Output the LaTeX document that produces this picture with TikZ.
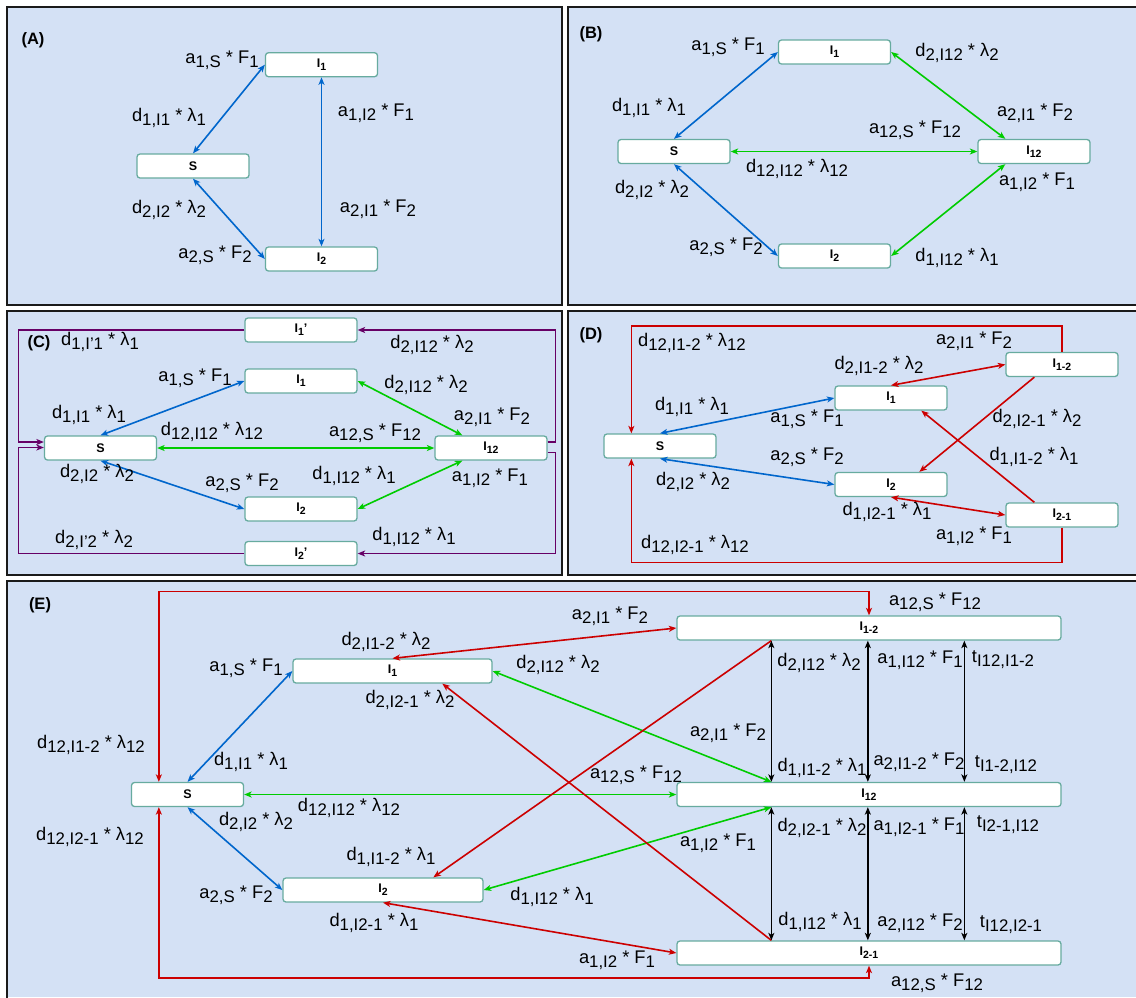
\documentclass[tikz,border=0pt]{standalone}
\usepackage{fontspec}
\setmainfont{Liberation Sans}
\usetikzlibrary{arrows.meta,calc}
\definecolor{bgp}{HTML}{D4E1F5}
\definecolor{nbd}{HTML}{67AB9F}
\definecolor{cblue}{HTML}{0066CC}
\definecolor{cgreen}{HTML}{00CC00}
\definecolor{cred}{HTML}{CC0000}
\definecolor{cpur}{HTML}{660066}
\definecolor{pbd}{HTML}{1A1A1A}
\newcommand\sbs[1]{\raisebox{-3.9pt}{\fontsize{16.8}{18}\selectfont #1}}
\newcommand\nsb[1]{\raisebox{-2.8pt}{\fontsize{10.5}{12}\selectfont #1}}
\begin{document}
\begin{tikzpicture}[x=1pt,y=-1pt,
  >={Stealth[length=7.5pt,width=6pt,inset=2pt]},
  panel/.style={fill=bgp},
  pborder/.style={draw=pbd,line width=2pt},
  st/.style={rectangle,rounded corners=3pt,fill=white,draw=nbd,line width=1.3pt,
    minimum width=112pt,minimum height=24pt,inner sep=0pt,
    font=\fontsize{12.5}{14}\selectfont\bfseries},
  lab/.style={inner sep=0pt,font=\fontsize{18.3}{20}\selectfont},
  plab/.style={inner sep=0pt,font=\fontsize{16.5}{18}\selectfont\bfseries},
  bl/.style={draw=cblue,line width=1.6pt},
  gr/.style={draw=cgreen,line width=1.6pt},
  rd/.style={draw=cred,line width=1.6pt},
  pu/.style={draw=cpur,line width=1.6pt},
  bk/.style={draw=black,line width=1.6pt}]
\useasboundingbox (0,0) rectangle (1136,997);
\fill[white] (0,0) rectangle (1136,997);
% panels
\fill[panel] (6.5,6.5) rectangle (561.5,305);
\draw[pborder] (6.5,6.5) rectangle (561.5,305);
\fill[panel] (567.5,6.5) rectangle (1136,305);
\draw[pborder] (1137,6.5) -- (567.5,6.5) -- (567.5,305) -- (1137,305);
\fill[panel] (6.5,311) rectangle (561.5,575);
\draw[pborder] (6.5,311) rectangle (561.5,575);
\fill[panel] (567.5,311) rectangle (1136,575);
\draw[pborder] (1137,311) -- (567.5,311) -- (567.5,575) -- (1137,575);
\fill[panel] (6.5,580.5) rectangle (1136,997);
\draw[pborder] (1137,580.5) -- (6.5,580.5) -- (6.5,998);

\node[plab] (pA) at (33,40) {(A)};
\node[plab] (pB) at (591,34) {(B)};
\node[plab] (pC) at (39,343) {(C)};
\node[plab] (pD) at (591,335) {(D)};
\node[plab] (pE) at (40,605) {(E)};

% ---------- Panel A
\node[st] (aI1) at (321.5,64.7) {I\nsb{1}};
\node[st] (aS) at (193,166) {S};
\node[st] (aI2) at (321.5,259) {I\nsb{2}};
\draw[bl,<->] (aS.north) -- (aI1.west);
\draw[bl,<->] (aS.south) -- (aI2.west);
\draw[bl,<->] (aI1.south) -- (aI2.north);
\node[lab] (la1) at (222,60) {a\sbs{1,S} * F\sbs{1}};
\node[lab] (la2) at (169,118) {d\sbs{1,I1} * λ\sbs{1}};
\node[lab] (la3) at (169,210) {d\sbs{2,I2} * λ\sbs{2}};
\node[lab] (la4) at (215,255) {a\sbs{2,S} * F\sbs{2}};
\node[lab] (la5) at (376,113) {a\sbs{1,I2} * F\sbs{1}};
\node[lab] (la6) at (378,209) {a\sbs{2,I1} * F\sbs{2}};

% ---------- Panel B
\node[st] (bI1) at (834.5,52) {I\nsb{1}};
\node[st] (bS) at (674,151.5) {S};
\node[st] (bI12) at (1034,151.5) {I\nsb{12}};
\node[st] (bI2) at (834.5,256) {I\nsb{2}};
\draw[bl,<->] (bS.north) -- (bI1.west);
\draw[bl,<->] (bS.south) -- (bI2.west);
\draw[gr,<->] (bI1.east) -- ([xshift=28pt]bI12.north west);
\draw[gr,<->] (bI2.east) -- ([xshift=28pt]bI12.south west);
\draw[gr,<->] (bS.east) -- (bI12.west);
\node[lab] (lb1) at (728,47) {a\sbs{1,S} * F\sbs{1}};
\node[lab] (lb2) at (957,53) {d\sbs{2,I12} * λ\sbs{2}};
\node[lab] (lb3) at (649,108) {d\sbs{1,I1} * λ\sbs{1}};
\node[lab] (lb4) at (1035,113) {a\sbs{2,I1} * F\sbs{2}};
\node[lab] (lb5) at (915,130) {a\sbs{12,S} * F\sbs{12}};
\node[lab] (lb6) at (797,169) {d\sbs{12,I12} * λ\sbs{12}};
\node[lab] (lb7) at (1037,182) {a\sbs{1,I2} * F\sbs{1}};
\node[lab] (lb8) at (652,190) {d\sbs{2,I2} * λ\sbs{2}};
\node[lab] (lb9) at (726,247) {a\sbs{2,S} * F\sbs{2}};
\node[lab] (lb10) at (957,258) {d\sbs{1,I12} * λ\sbs{1}};

% ---------- Panel C
\node[st] (cI1p) at (301,330) {I\nsb{1}'};
\node[st] (cI1) at (301,381) {I\nsb{1}};
\node[st] (cS) at (100.5,448) {S};
\node[st] (cI12) at (491,448) {I\nsb{12}};
\node[st] (cI2) at (301,509) {I\nsb{2}};
\node[st] (cI2p) at (301,553.5) {I\nsb{2}'};
\draw[bl,<->] (cS.north) -- (cI1.west);
\draw[bl,<->] (cS.south) -- (cI2.west);
\draw[gr,<->] (cI1.east) -- ([xshift=28pt]cI12.north west);
\draw[gr,<->] (cI2.east) -- ([xshift=28pt]cI12.south west);
\draw[gr,<->] (cS.east) -- (cI12.west);
\draw[pu,->] (cI1p.west) -| ([xshift=-25.5pt,yshift=6pt]cS.west) -- ([yshift=6pt]cS.west);
\draw[pu,->] (cI2p.west) -| ([xshift=-25.5pt,yshift=0.5pt]cS.west) -- ([yshift=0.5pt]cS.west);
\draw[pu,->] ([yshift=6pt]cI12.east) -- ++(8,0) |- (cI1p.east);
\draw[pu,->] ([yshift=-4.5pt]cI12.east) -- ++(8,0) |- (cI2p.east);
\node[lab] (lc1) at (100,342) {d\sbs{1,I'1} * λ\sbs{1}};
\node[lab] (lc2) at (432,345) {d\sbs{2,I12} * λ\sbs{2}};
\node[lab] (lc3) at (195,378) {a\sbs{1,S} * F\sbs{1}};
\node[lab] (lc4) at (426,385) {d\sbs{2,I12} * λ\sbs{2}};
\node[lab] (lc5) at (89,415) {d\sbs{1,I1} * λ\sbs{1}};
\node[lab] (lc6) at (492,417) {a\sbs{2,I1} * F\sbs{2}};
\node[lab] (lc7) at (212,432) {d\sbs{12,I12} * λ\sbs{12}};
\node[lab] (lc8) at (375,433) {a\sbs{12,S} * F\sbs{12}};
\node[lab] (lc9) at (97,474) {d\sbs{2,I2} * λ\sbs{2}};
\node[lab] (lc10) at (242,483) {a\sbs{2,S} * F\sbs{2}};
\node[lab] (lc11) at (354,476) {d\sbs{1,I12} * λ\sbs{1}};
\node[lab] (lc12) at (490,478) {a\sbs{1,I2} * F\sbs{1}};
\node[lab] (lc13) at (94,540) {d\sbs{2,I'2} * λ\sbs{2}};
\node[lab] (lc14) at (414,537) {d\sbs{1,I12} * λ\sbs{1}};

% ---------- Panel D
\node[st] (dI12a) at (1062,364.5) {I\nsb{1-2}};
\node[st] (dI1) at (891,398) {I\nsb{1}};
\node[st] (dS) at (660,446) {S};
\node[st] (dI2) at (891,484.5) {I\nsb{2}};
\node[st] (dI21) at (1062,515) {I\nsb{2-1}};
\draw[bl,<->] (dS.north) -- (dI1.west);
\draw[bl,<->] (dS.south) -- (dI2.west);
\draw[rd,->] (dI12a.north) -- ++(0,-26) -| ([xshift=28pt]dS.north west);
\draw[rd,->] (dI21.south) -- ++(0,35) -| ([xshift=28pt]dS.south west);
\draw[rd,<->] (dI1.north) -- (dI12a.west);
\draw[rd,<->] (dI2.south) -- (dI21.west);
\draw[rd,->] ([xshift=29pt]dI12a.south west) -- ([xshift=85pt]dI2.north west);
\draw[rd,->] ([xshift=29pt]dI21.north west) -- ([xshift=87pt]dI1.south west);
\node[lab] (ld1) at (692,343) {d\sbs{12,I1-2} * λ\sbs{12}};
\node[lab] (ld2) at (974,341) {a\sbs{2,I1} * F\sbs{2}};
\node[lab] (ld3) at (879,366) {d\sbs{2,I1-2} * λ\sbs{2}};
\node[lab] (ld4) at (692,407) {d\sbs{1,I1} * λ\sbs{1}};
\node[lab] (ld5) at (807,419) {a\sbs{1,S} * F\sbs{1}};
\node[lab] (ld6) at (1037,419) {d\sbs{2,I2-1} * λ\sbs{2}};
\node[lab] (ld7) at (807,457) {a\sbs{2,S} * F\sbs{2}};
\node[lab] (ld8) at (1034,457) {d\sbs{1,I1-2} * λ\sbs{1}};
\node[lab] (ld9) at (693,482) {d\sbs{2,I2} * λ\sbs{2}};
\node[lab] (ld10) at (887,512) {d\sbs{1,I2-1} * λ\sbs{1}};
\node[lab] (ld11) at (974,536) {a\sbs{1,I2} * F\sbs{1}};
\node[lab] (ld12) at (695,545) {d\sbs{12,I2-1} * λ\sbs{12}};

% ---------- Panel E
\node[st,minimum width=199pt] (eI1) at (392.5,671) {I\nsb{1}};
\node[st] (eS) at (187.5,794.5) {S};
\node[st,minimum width=200pt] (eI2) at (383,890) {I\nsb{2}};
\node[st,minimum width=384pt] (eI12a) at (869,628) {I\nsb{1-2}};
\node[st,minimum width=384pt] (eI12) at (869,794.5) {I\nsb{12}};
\node[st,minimum width=384pt] (eI21) at (869,953) {I\nsb{2-1}};
\draw[bl,<->] (eS.north) -- (eI1.west);
\draw[bl,<->] (eS.south) -- (eI2.west);
\draw[gr,<->] (eI1.east) -- ([xshift=95pt]eI12.north west);
\draw[gr,<->] (eI2.east) -- ([xshift=95pt]eI12.south west);
\draw[gr,<->] (eS.east) -- (eI12.west);
\draw[rd,<->] ([xshift=28pt]eS.north west) -- ++(0,-190.5) -| (eI12a.north);
\draw[rd,<->] ([xshift=28pt]eS.south west) -- ++(0,171) -| (eI21.south);
\draw[rd,<->] (eI1.north) -- (eI12a.west);
\draw[rd,<->] (eI2.south) -- (eI21.west);
\draw[rd,->] ([xshift=95pt]eI12a.south west) -- ([xshift=151pt]eI2.north west);
\draw[rd,->] ([xshift=95pt]eI21.north west) -- ([xshift=150pt]eI1.south west);
\foreach \dx in {95,191.5,288}{
  \draw[bk,<->] ([xshift=\dx pt]eI12a.south west) -- ([xshift=\dx pt]eI12.north west);
  \draw[bk,<->] ([xshift=\dx pt]eI12.south west) -- ([xshift=\dx pt]eI21.north west);
}
\node[lab] (le1) at (935,602) {a\sbs{12,S} * F\sbs{12}};
\node[lab] (le2) at (610,616) {a\sbs{2,I1} * F\sbs{2}};
\node[lab] (le3) at (386,642) {d\sbs{2,I1-2} * λ\sbs{2}};
\node[lab] (le4) at (246,668) {a\sbs{1,S} * F\sbs{1}};
\node[lab] (le5) at (558,665) {d\sbs{2,I12} * λ\sbs{2}};
\node[lab] (le6) at (410,700) {d\sbs{2,I2-1} * λ\sbs{2}};
\node[lab] (le7) at (819,663) {d\sbs{2,I12} * λ\sbs{2}};
\node[lab] (le8) at (920,660) {a\sbs{1,I12} * F\sbs{1}};
\node[lab] (le9) at (1003,660) {t\sbs{I12,I1-2}};
\node[lab] (le10) at (728,733) {a\sbs{2,I1} * F\sbs{2}};
\node[lab] (le11) at (91,745) {d\sbs{12,I1-2} * λ\sbs{12}};
\node[lab] (le12) at (251,762) {d\sbs{1,I1} * λ\sbs{1}};
\node[lab] (le13) at (822,768) {d\sbs{1,I1-2} * λ\sbs{1}};
\node[lab] (le14) at (919,762) {a\sbs{2,I1-2} * F\sbs{2}};
\node[lab] (le15) at (1006,765) {t\sbs{I1-2,I12}};
\node[lab] (le16) at (636,775) {a\sbs{12,S} * F\sbs{12}};
\node[lab] (le17) at (349,808) {d\sbs{12,I12} * λ\sbs{12}};
\node[lab] (le18) at (256,822) {d\sbs{2,I2} * λ\sbs{2}};
\node[lab] (le19) at (822,828) {d\sbs{2,I2-1} * λ\sbs{2}};
\node[lab] (le20) at (919,827) {a\sbs{1,I2-1} * F\sbs{1}};
\node[lab] (le21) at (1008,825) {t\sbs{I2-1,I12}};
\node[lab] (le22) at (90,837) {d\sbs{12,I2-1} * λ\sbs{12}};
\node[lab] (le23) at (718,843) {a\sbs{1,I2} * F\sbs{1}};
\node[lab] (le24) at (391,857) {d\sbs{1,I1-2} * λ\sbs{1}};
\node[lab] (le25) at (552,897) {d\sbs{1,I12} * λ\sbs{1}};
\node[lab] (le26) at (236,895) {a\sbs{2,S} * F\sbs{2}};
\node[lab] (le27) at (374,923) {d\sbs{1,I2-1} * λ\sbs{1}};
\node[lab] (le28) at (820,922) {d\sbs{1,I12} * λ\sbs{1}};
\node[lab] (le29) at (920,923) {a\sbs{2,I12} * F\sbs{2}};
\node[lab] (le30) at (1011,925) {t\sbs{I12,I2-1}};
\node[lab] (le31) at (617,960) {a\sbs{1,I2} * F\sbs{1}};
\node[lab] (le32) at (937,983) {a\sbs{12,S} * F\sbs{12}};
\end{tikzpicture}
\end{document}
